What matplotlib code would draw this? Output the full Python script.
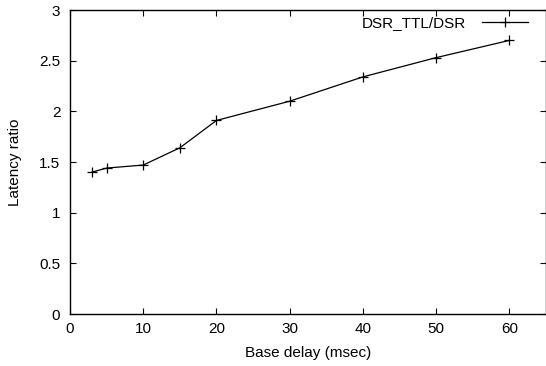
import matplotlib
matplotlib.use("Agg")
import matplotlib.pyplot as plt

plt.rcParams['font.family'] = ['Liberation Sans', 'DejaVu Sans']

base_delay = [3, 5, 10, 15, 20, 30, 40, 50, 60]
latency_ratio = [1.40, 1.44, 1.47, 1.64, 1.91, 2.10, 2.34, 2.53, 2.70]
series_label = "DSR_TTL/DSR"
xticks = [0, 10, 20, 30, 40, 50, 60]
yticks = [0, 0.5, 1, 1.5, 2, 2.5, 3]
ytick_labels = ["0", "0.5", "1", "1.5", "2", "2.5", "3"]

fs = 11
fig = plt.figure(figsize=(5.46, 3.66), dpi=100)
ax = fig.add_axes([70/546, 52/366, 476/546, 304/366])
ax.plot(base_delay, latency_ratio, color='black', linewidth=0.9,
        marker='+', markersize=6.5, markeredgewidth=0.9, label=series_label)
ax.set_xlim(0, 65)
ax.set_ylim(0, 3)
ax.set_xticks(xticks)
ax.set_yticks(yticks)
ax.set_yticklabels(ytick_labels)
ax.tick_params(direction='in', top=True, right=True, length=4.5, width=0.8,
               labelsize=fs, pad=6)
ax.tick_params(axis='y', pad=7)
ax.set_xlabel("Base delay (msec)", fontsize=fs, labelpad=7)
ax.set_ylabel("Latency ratio", fontsize=fs, labelpad=12)
for s in ax.spines.values():
    s.set_linewidth(1.0)
leg = ax.legend(loc='upper right', frameon=False, markerfirst=False,
                fontsize=fs, handlelength=3.0, handletextpad=1.0,
                borderaxespad=0.0, bbox_to_anchor=(0.974, 1.0))
fig.savefig("out.png", dpi=100)
